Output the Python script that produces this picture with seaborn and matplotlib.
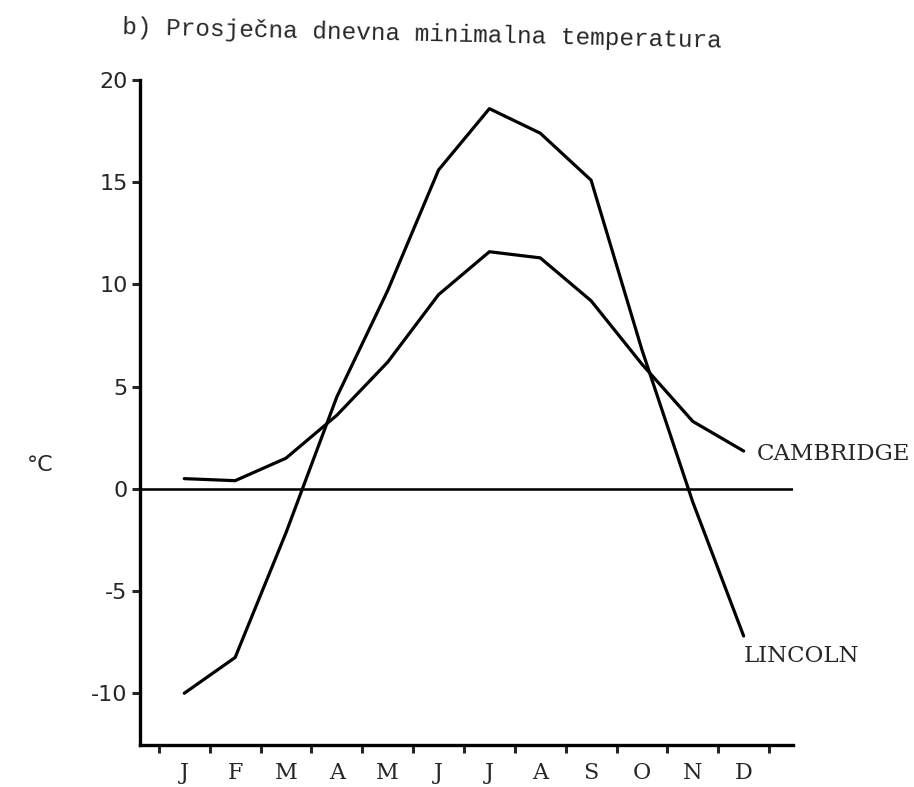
import numpy as np
import pandas as pd
import matplotlib
matplotlib.use('Agg')
import matplotlib.pyplot as plt
import seaborn as sns

# monthly mean daily minimum temperature
months = ['J', 'F', 'M', 'A', 'M', 'J', 'J', 'A', 'S', 'O', 'N', 'D']
lincoln = [-10.0, -8.25, -2.15, 4.5, 9.7, 15.6, 18.6, 17.4, 15.1, 6.8, -0.65, -7.2]
cambridge = [0.5, 0.4, 1.5, 3.6, 6.2, 9.5, 11.6, 11.3, 9.2, 6.1, 3.3, 1.85]
yticks = [-10, -5, 0, 5, 10, 15, 20]

df = pd.DataFrame({'mjesec': np.arange(len(months)),
                   'LINCOLN': lincoln,
                   'CAMBRIDGE': cambridge})

sns.set_style('ticks')
plt.rcParams['font.family'] = ['DejaVu Sans']

fig = plt.figure(figsize=(9.14, 7.87), dpi=100)
ax = fig.add_axes([0.1532, 0.0534, 0.7144, 0.8449])

lw = 2.3
sns.lineplot(data=df, x='mjesec', y='LINCOLN', ax=ax, color='black', lw=lw)
sns.lineplot(data=df, x='mjesec', y='CAMBRIDGE', ax=ax, color='black', lw=lw)
ax.axhline(0, color='black', lw=lw * 0.8)

ax.set_xlim(-0.87, 11.97)
ax.set_ylim(-12.53, 20)

# ticks on month boundaries, labels in the middle
ax.set_xticks(np.arange(-0.5, 12, 1))
ax.set_xticklabels([])
ax.set_xticks(np.arange(len(months)), minor=True)
ax.set_xticklabels(months, minor=True, fontsize=16, family='DejaVu Serif')
ax.tick_params(axis='x', which='major', direction='out', length=6, width=2.2)
ax.tick_params(axis='x', which='minor', length=0, pad=12)
ax.set_yticks(yticks)
ax.set_yticklabels([str(v) for v in yticks], fontsize=16)
ax.tick_params(axis='y', direction='out', length=6, width=2.2, pad=3)

for s in ['top', 'right']:
    ax.spines[s].set_visible(False)
for s in ['left', 'bottom']:
    ax.spines[s].set_linewidth(2.4)
    ax.spines[s].set_color('black')

ax.set_xlabel('')
ax.set_ylabel('')

ax.text(11.25, cambridge[-1] - 0.15, 'CAMBRIDGE', fontsize=16.5, family='DejaVu Serif',
        va='center', ha='left', clip_on=False)
ax.text(11.0, lincoln[-1] - 1.0, 'LINCOLN', fontsize=16.5, family='DejaVu Serif',
        va='center', ha='left', clip_on=False)

fig.text(40 / 914, 1 - 465 / 787, '°C', fontsize=16, ha='center', va='center')
fig.text(122 / 914, 1 - 28 / 787, 'b) Prosječna dnevna minimalna temperatura',
         fontsize=17.6, family='Liberation Mono', ha='left', va='center',
         rotation=-1.3, rotation_mode='anchor')

fig.savefig('out.png', dpi=100, facecolor='white')
